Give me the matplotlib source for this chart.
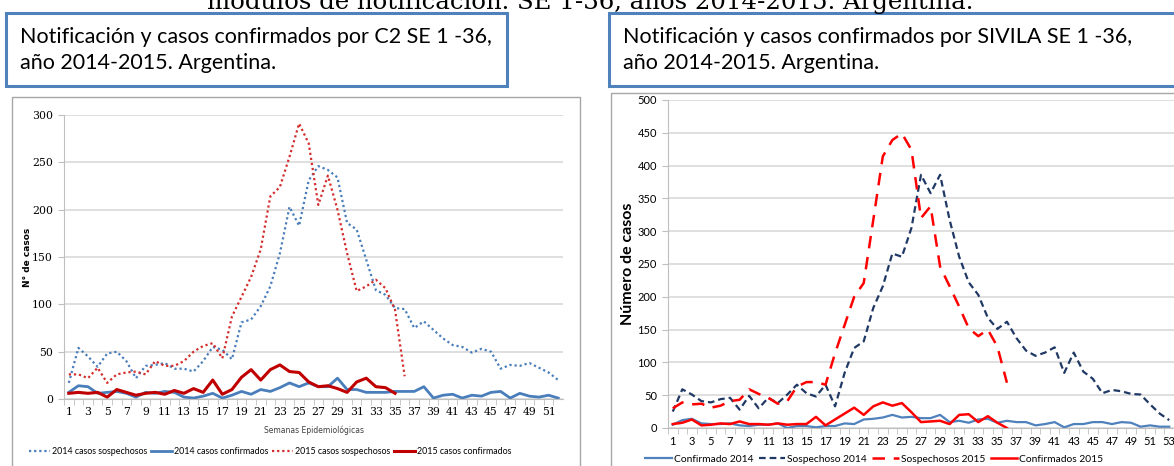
import matplotlib
matplotlib.use("Agg")
import matplotlib.pyplot as plt
from matplotlib.patches import Rectangle
import numpy as np

# C2 data (left chart), weeks 1-52
c2_weeks = list(range(1, 53))
c2_sosp_2014 = [17, 54, 45, 34, 48, 50, 40, 22, 35, 36, 38, 32, 32, 29, 40, 55, 52, 42, 81, 84,
                98, 119, 154, 203, 183, 231, 246, 242, 234, 186, 179, 147, 115, 110, 96, 95, 75, 82,
                73, 64, 57, 55, 49, 53, 50, 32, 36, 35, 38, 33, 28, 20]
c2_conf_2014 = [7, 14, 13, 6, 7, 8, 6, 2, 7, 6, 8, 7, 2, 1, 3, 6, 1, 4, 8, 5, 10, 8, 12, 17, 13,
                17, 13, 13, 22, 10, 10, 7, 7, 7, 8, 8, 8, 13, 1, 4, 5, 1, 4, 3, 7, 8, 1, 6, 3, 2, 4, 1]
c2_weeks_2015 = list(range(1, 37))
c2_sosp_2015 = [26, 26, 22, 33, 17, 26, 28, 29, 26, 40, 35, 35, 40, 50, 56, 59, 43, 87, 108, 129,
                158, 214, 224, 256, 291, 270, 205, 236, 200, 154, 114, 119, 126, 117, 94, 24]
c2_conf_2015 = [6, 7, 6, 7, 2, 10, 7, 4, 6, 7, 5, 9, 6, 11, 7, 20, 5, 10, 23, 31, 20, 31, 36, 29,
                28, 18, 13, 14, 11, 7, 18, 22, 13, 12, 6]

# SIVILA data (right chart), weeks 1-53
sv_weeks = list(range(1, 54))
sv_conf_2014 = [5, 12, 14, 7, 6, 6, 7, 4, 3, 5, 5, 7, 0, 3, 3, 1, 3, 3, 7, 6, 13, 14, 16, 20, 16,
                17, 15, 15, 20, 9, 11, 8, 13, 14, 8, 11, 9, 9, 4, 6, 9, 1, 6, 6, 9, 9, 6, 9, 8, 2,
                4, 2, 2]
sv_sosp_2014 = [25, 59, 51, 41, 39, 44, 46, 28, 49, 30, 46, 38, 51, 66, 53, 48, 66, 33, 84, 122,
                132, 183, 216, 266, 261, 305, 386, 358, 386, 317, 261, 222, 203, 168, 151, 162, 137,
                118, 110, 115, 123, 84, 115, 86, 75, 53, 58, 56, 52, 51, 36, 22, 12]
sv_weeks_2015 = list(range(1, 37))
sv_sosp_2015 = [30, 39, 36, 37, 31, 34, 41, 43, 59, 52, 46, 37, 41, 63, 70, 70, 66, 114, 157, 200,
                221, 317, 414, 439, 449, 424, 320, 338, 246, 216, 185, 152, 140, 150, 124, 69]
sv_conf_2015 = [6, 8, 13, 4, 5, 7, 6, 10, 6, 6, 5, 7, 5, 6, 6, 17, 4, 13, 22, 31, 20, 33, 39, 34,
                38, 24, 9, 10, 11, 6, 20, 21, 9, 18, 8, 0]

W, H = 1174, 466
fig = plt.figure(figsize=(W / 100, H / 100), dpi=100)
fig.patch.set_facecolor("white")


def fx(px):
    return px / W


def fy(py):
    return 1 - py / H


# cut-off title at top
fig.text(fx(590), fy(9), "módulos de notificación. SE 1-36, años 2014-2015. Argentina.",
         family="DejaVu Serif", fontsize=17.6, ha="center", va="baseline")

box_blue = "#4F81BD"
# text boxes (behind everything)
for x0, w in [(6, 501), (609, 600)]:
    fig.patches.append(Rectangle((fx(x0), fy(86)), fx(w), 73 / H, transform=fig.transFigure,
                                 facecolor="white", edgecolor=box_blue, lw=2.2, zorder=-5))
for x0, first in [(20, "Notificación y casos confirmados por C2 SE 1 -36,"),
                  (623, "Notificación y casos confirmados por SIVILA SE 1 -36,")]:
    fig.text(fx(x0), fy(43), first, family="Lato", fontsize=15.5, va="baseline")
    fig.text(fx(x0), fy(69), "año 2014-2015. Argentina.", family="Lato", fontsize=15.5,
             va="baseline")

# chart frames
fig.patches.append(Rectangle((fx(12), fy(480)), fx(568), 383 / H, transform=fig.transFigure,
                             facecolor="white", edgecolor="#A6A6A6", lw=1, zorder=-5))
fig.patches.append(Rectangle((fx(611), fy(480)), fx(600), 387 / H, transform=fig.transFigure,
                             facecolor="white", edgecolor="#A6A6A6", lw=1, zorder=-5))

grid_col = "#D9D9D9"


def style_axes(ax, ymax, step, xmax, size, family):
    ax.set_ylim(0, ymax)
    ax.set_xlim(0.5, xmax)
    ax.set_yticks(np.arange(0, ymax + 1, step))
    ax.set_xticks(np.arange(1, xmax, 2))
    ax.set_xticks(np.arange(0.5, xmax, 1), minor=True)
    ax.grid(axis="y", color=grid_col, lw=1.2)
    ax.set_axisbelow(True)
    for s in ["top", "right"]:
        ax.spines[s].set_visible(False)
    ax.spines["left"].set_color("#BFBFBF")
    ax.spines["bottom"].set_color("#BFBFBF")
    ax.tick_params(axis="x", which="major", length=0, labelsize=size, pad=6)
    ax.tick_params(axis="x", which="minor", length=4, color="#BFBFBF", direction="out")
    ax.tick_params(axis="y", length=4, color="#BFBFBF", labelsize=size, pad=4)
    for lab in ax.get_xticklabels() + ax.get_yticklabels():
        lab.set_family(family)
    ax.patch.set_alpha(0)


# left chart: C2
ax1 = fig.add_axes([fx(64), fy(399), fx(499), 284 / H])
style_axes(ax1, 300, 50, 52.5, 7.8, "DejaVu Serif")
l1, = ax1.plot(c2_weeks, c2_sosp_2014, color="#4A7EBB", lw=1.6, ls=(0, (1, 1.3)),
               label="2014 casos sospechosos")
l2, = ax1.plot(c2_weeks, c2_conf_2014, color="#4A7EBB", lw=2.0, label="2014 casos confirmados")
l3, = ax1.plot(c2_weeks_2015, c2_sosp_2015, color="#D42C2C", lw=1.6, ls=(0, (1, 1.3)),
               label="2015 casos sospechosos")
l4, = ax1.plot(c2_weeks_2015[:len(c2_conf_2015)], c2_conf_2015, color="#C00000", lw=2.2,
               label="2015 casos confirmados")
ax1.set_ylabel("N° de casos", fontsize=6.5, fontweight="bold")
ax1.yaxis.set_label_coords(-0.064, 0.5)
ax1.set_xlabel("Semanas Epidemiológicas", fontsize=5.5, color="#404040", labelpad=6)
fig.legend(handles=[l1, l2, l3, l4], loc="center", bbox_to_anchor=(fx(270), fy(452)), ncol=4,
           frameon=False, prop={"family": "Lato", "size": 6.4},
           handlelength=2.4, columnspacing=0.4, handletextpad=0.2)

# right chart: SIVILA
ax2 = fig.add_axes([fx(668), fy(428), fx(506), 328 / H])
style_axes(ax2, 500, 50, 53.5, 8, "Lato")
m1, = ax2.plot(sv_weeks, sv_conf_2014, color="#4F81BD", lw=1.6, label="Confirmado 2014")
m2, = ax2.plot(sv_weeks, sv_sosp_2014, color="#1F3864", lw=1.6, ls=(0, (3, 1.8)),
               label="Sospechoso 2014")
m3, = ax2.plot(sv_weeks_2015, sv_sosp_2015, color="#FF0000", lw=1.8, ls=(0, (5, 3.5)),
               label="Sospechosos 2015")
m4, = ax2.plot(sv_weeks_2015, sv_conf_2015, color="#FF0000", lw=1.8, label="Confirmados 2015")
ax2.set_ylabel("Número de casos", fontsize=11.5, fontweight="bold", family="Lato")
ax2.yaxis.set_label_coords(-0.065, 0.5)
fig.legend(handles=[m1, m2, m3, m4], loc="center left", bbox_to_anchor=(fx(636), fy(459)), ncol=4,
           frameon=False, prop={"family": "Lato", "size": 7.4}, handlelength=2.6,
           columnspacing=0.5, handletextpad=0.2)

fig.savefig("out.png", dpi=100)
